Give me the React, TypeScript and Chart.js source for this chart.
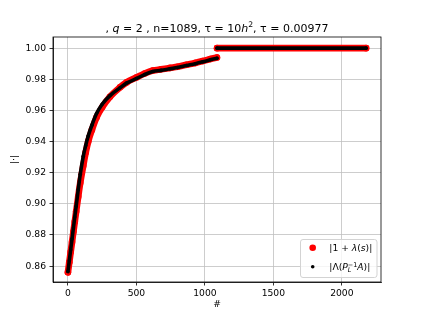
import React, { useEffect, useRef } from "react";
import { Chart, registerables } from "chart.js";

Chart.register(...registerables);

// ---- data ----
const X_TICKS = [0, 500, 1000, 1500, 2000];
const Y_TICKS = [0.86, 0.88, 0.9, 0.92, 0.94, 0.96, 0.98, 1.0];

// first half of the spectrum (indices 0 .. 1088), sampled
const IDX_LOW = [0, 10, 20, 30, 40, 50, 60, 75, 90, 112, 130, 148, 175, 209, 250, 307, 380, 428, 501, 560, 620, 680, 745, 800, 866, 930, 985, 1040, 1088];
const RED_LOW = [0.856, 0.8625, 0.869, 0.8755, 0.882, 0.8885, 0.895, 0.9045, 0.9135, 0.9245, 0.933, 0.94, 0.9475, 0.9555, 0.962, 0.9688, 0.9748, 0.978, 0.9812, 0.9837, 0.9856, 0.9864, 0.9873, 0.988, 0.9893, 0.9905, 0.9917, 0.993, 0.994];
const BLACK_LOW = [0.8565, 0.8635, 0.8705, 0.8775, 0.8845, 0.8915, 0.8985, 0.909, 0.919, 0.9305, 0.9375, 0.9435, 0.9505, 0.958, 0.964, 0.9695, 0.9745, 0.9775, 0.9805, 0.983, 0.985, 0.9857, 0.9867, 0.9875, 0.9888, 0.99, 0.9912, 0.9925, 0.9935];

// second half (indices 1089 .. 2177): all equal to one
const IDX_HIGH = [1089, 2177];
const RED_HIGH = [1.0, 1.0];
const BLACK_HIGH = [1.0, 1.0];

const X_MIN = -109;
const X_MAX = 2286;
const Y_MIN = 0.8498;
const Y_MAX = 1.00715;

const FONT = "'DejaVu Sans', sans-serif";

type Run = { t: string; it?: boolean; dy?: number; sc?: number; stack?: boolean };

function drawRuns(ctx: CanvasRenderingContext2D, runs: Run[], x: number, y: number, size: number, align: "left" | "center") {
  const fontFor = (r: Run) => `${r.it ? "italic " : ""}${size * (r.sc ?? 1)}px ${FONT}`;
  let total = 0;
  for (const r of runs) {
    ctx.font = fontFor(r);
    if (!r.stack) total += ctx.measureText(r.t).width;
  }
  let cx = align === "center" ? x - total / 2 : x;
  ctx.textAlign = "left";
  ctx.textBaseline = "alphabetic";
  for (const r of runs) {
    ctx.font = fontFor(r);
    ctx.fillText(r.t, cx, y + (r.dy ?? 0) * size);
    if (!r.stack) cx += ctx.measureText(r.t).width;
  }
}

const TITLE_RUNS: Run[] = [
  { t: ", " },
  { t: "q", it: true },
  { t: " = 2 , n=1089, τ = 10" },
  { t: "h", it: true },
  { t: "2", dy: -0.38, sc: 0.7 },
  { t: ", τ = 0.00977" },
];
const LEGEND_RED: Run[] = [
  { t: "|1 + " },
  { t: "λ", it: true },
  { t: "(" },
  { t: "s", it: true },
  { t: ")|" },
];
const LEGEND_BLACK: Run[] = [
  { t: "|Λ(" },
  { t: "P", it: true },
  { t: "L", it: true, dy: 0.2, sc: 0.7, stack: true },
  { t: "−1", dy: -0.38, sc: 0.7 },
  { t: "A", it: true },
  { t: ")|" },
];

export default function App() {
  const ref = useRef<HTMLCanvasElement>(null);

  useEffect(() => {
    if (!ref.current) return;
    const toPts = (xs: number[], ys: number[]) => xs.map((x, i) => ({ x, y: ys[i] }));

    const decor = {
      id: "decor",
      afterDraw(chart: any) {
        const ctx: CanvasRenderingContext2D = chart.ctx;
        const a = chart.chartArea;
        ctx.save();
        // full frame (spines)
        ctx.strokeStyle = "#000";
        ctx.lineWidth = 0.8;
        ctx.strokeRect(a.left, a.top, a.right - a.left, a.bottom - a.top);
        // title
        ctx.fillStyle = "#000";
        drawRuns(ctx, TITLE_RUNS, (a.left + a.right) / 2, a.top - 5.5, 11, "center");
        // legend
        const bx = a.right - 81;
        const by = a.bottom - 43;
        const bw = 76.5;
        const bh = 38;
        ctx.beginPath();
        (ctx as any).roundRect(bx + 0.5, by + 0.5, bw, bh, 2.5);
        ctx.fillStyle = "rgba(255,255,255,0.8)";
        ctx.fill();
        ctx.strokeStyle = "#d3d3d3";
        ctx.lineWidth = 1;
        ctx.stroke();
        const hx = bx + 12.7;
        const r1 = by + 8.7;
        const r2 = by + 27.7;
        ctx.beginPath();
        ctx.arc(hx, r1, 3.3, 0, Math.PI * 2);
        ctx.fillStyle = "red";
        ctx.fill();
        ctx.beginPath();
        ctx.arc(hx, r2, 1.8, 0, Math.PI * 2);
        ctx.fillStyle = "#000";
        ctx.fill();
        ctx.fillStyle = "#000";
        drawRuns(ctx, LEGEND_RED, bx + 29.3, r1 + 3.3, 9.2, "left");
        drawRuns(ctx, LEGEND_BLACK, bx + 29.3, r2 + 3.3, 9.2, "left");
        ctx.restore();
      },
    };

    const redStyle = {
      borderColor: "#ff0000",
      backgroundColor: "#ff0000",
      borderWidth: 6.6,
      pointRadius: 3.3,
      pointBorderWidth: 0,
      pointBackgroundColor: "#ff0000",
      showLine: true,
      borderCapStyle: "round" as const,
      borderJoinStyle: "round" as const,
      cubicInterpolationMode: "monotone" as const,
      order: 2,
    };
    const blackStyle = {
      borderColor: "#000000",
      backgroundColor: "#000000",
      borderWidth: 3.6,
      pointRadius: 1.8,
      pointBorderWidth: 0,
      pointBackgroundColor: "#000000",
      showLine: true,
      borderCapStyle: "round" as const,
      borderJoinStyle: "round" as const,
      cubicInterpolationMode: "monotone" as const,
      order: 1,
    };

    const chart = new Chart(ref.current, {
      type: "scatter",
      data: {
        datasets: [
          { label: "|1 + λ(s)|", data: toPts(IDX_LOW, RED_LOW), ...redStyle },
          { label: "|1 + λ(s)| ", data: toPts(IDX_HIGH, RED_HIGH), ...redStyle },
          { label: "|Λ(P_L⁻¹A)|", data: toPts(IDX_LOW, BLACK_LOW), ...blackStyle },
          { label: "|Λ(P_L⁻¹A)| ", data: toPts(IDX_HIGH, BLACK_HIGH), ...blackStyle },
        ],
      },
      options: {
        responsive: false,
        animation: false,
        devicePixelRatio: 1,
        layout: { padding: { left: 0, right: 42, top: 37, bottom: 0 } },
        plugins: {
          legend: { display: false },
          title: { display: false },
          tooltip: { enabled: false },
        },
        scales: {
          x: {
            type: "linear",
            min: X_MIN,
            max: X_MAX,
            afterFit: (s: any) => {
              s.height = 35;
            },
            afterBuildTicks: (s: any) => {
              s.ticks = X_TICKS.map((v) => ({ value: v }));
            },
            ticks: {
              color: "#000",
              padding: 3,
              maxRotation: 0,
              font: { family: FONT, size: 9.2 },
              callback: (v: any) => String(v),
            },
            grid: {
              color: "#c0c0c0",
              lineWidth: 0.8,
              tickColor: "#000",
              tickLength: 3.5,
              drawTicks: true,
            },
            border: { display: true, color: "#000", width: 0.8 },
            title: {
              display: true,
              text: "#",
              color: "#000",
              font: { family: FONT, size: 9.2 },
              padding: { top: 0, bottom: 6.6 },
            },
          },
          y: {
            type: "linear",
            min: Y_MIN,
            max: Y_MAX,
            afterFit: (s: any) => {
              s.width = 53;
            },
            afterBuildTicks: (s: any) => {
              s.ticks = Y_TICKS.map((v) => ({ value: v }));
            },
            ticks: {
              color: "#000",
              padding: 3.5,
              font: { family: FONT, size: 9.2 },
              callback: (v: any) => Number(v).toFixed(2),
            },
            grid: {
              color: "#c0c0c0",
              lineWidth: 0.8,
              tickColor: "#000",
              tickLength: 3.5,
              drawTicks: true,
            },
            border: { display: true, color: "#000", width: 0.8 },
            title: {
              display: true,
              text: "|·|",
              color: "#000",
              font: { family: FONT, size: 9.2 },
              padding: { top: 8.6, bottom: 0 },
            },
          },
        },
      },
      plugins: [decor],
    } as any);

    return () => chart.destroy();
  }, []);

  return (
    <div style={{ position: "absolute", left: 0, top: 0, width: 423, height: 317, background: "#fff" }}>
      <canvas ref={ref} width={423} height={317} style={{ display: "block", width: 423, height: 317 }} />
    </div>
  );
}
